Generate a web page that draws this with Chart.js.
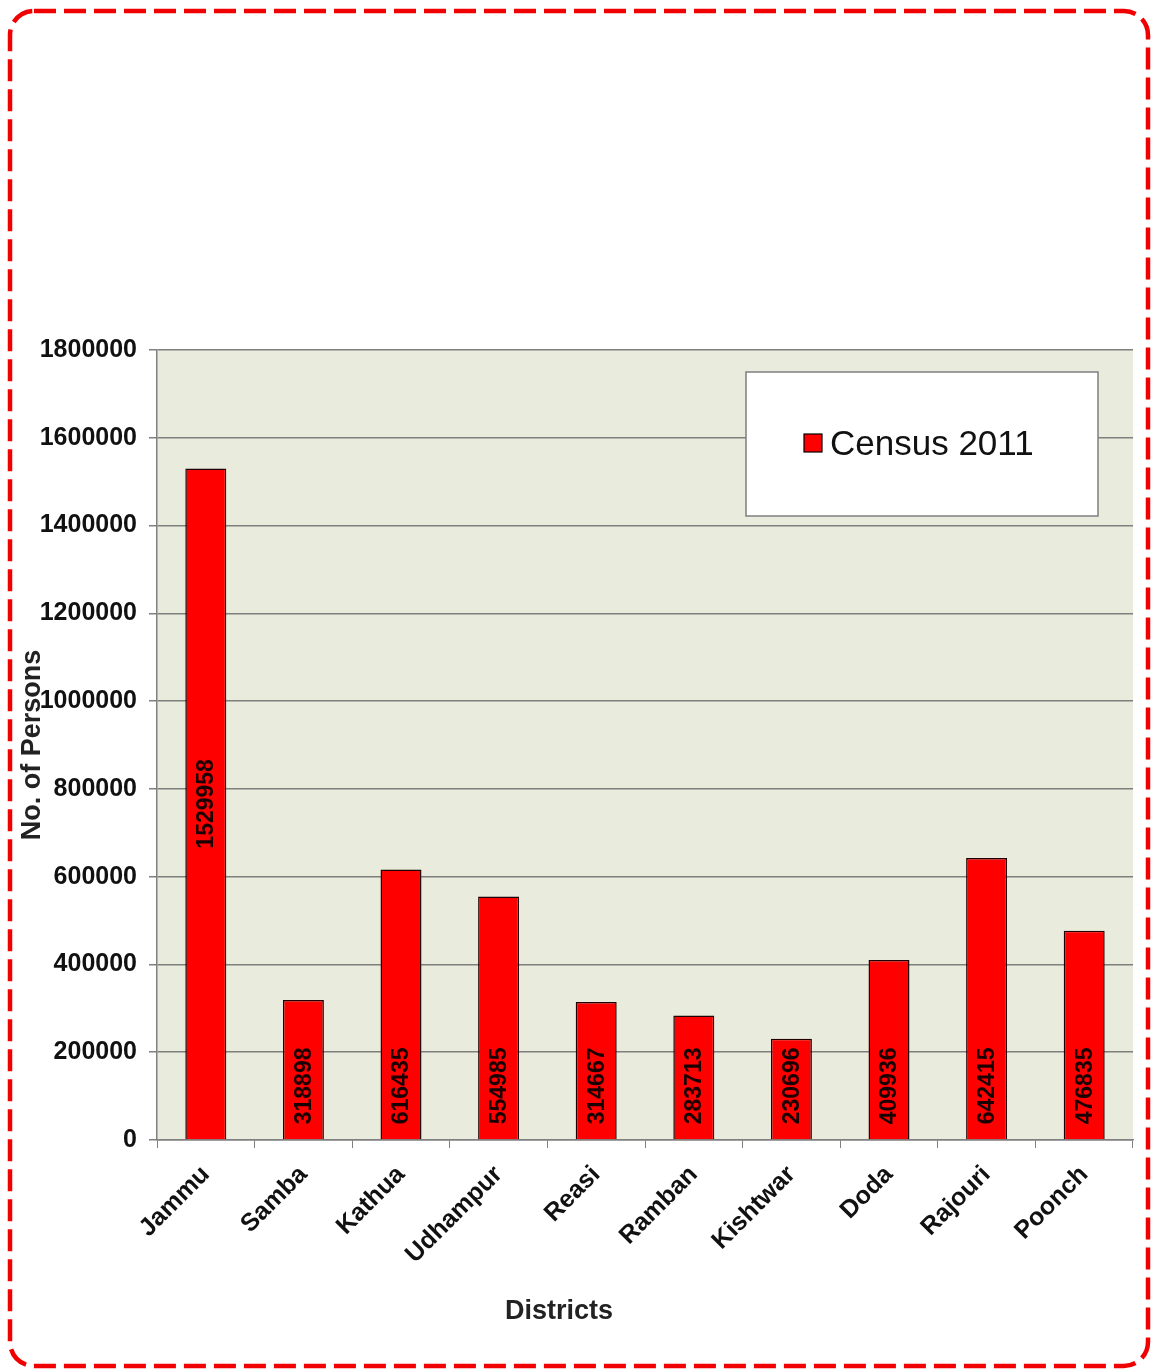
<!DOCTYPE html>
<html>
<head>
<meta charset="utf-8">
<script src="https://cdn.jsdelivr.net/npm/chart.js@4.4.1/dist/chart.umd.min.js"></script>
<style>
  html, body { margin: 0; padding: 0; background: #fff; }
  #wrap { width: 1151px; height: 1370px; }
</style>
</head>
<body>
<div id="wrap"><canvas id="censusChart" width="1151" height="1370"></canvas></div>
<script>
// --- data ---
const districts = ['Jammu', 'Samba', 'Kathua', 'Udhampur', 'Reasi', 'Ramban', 'Kishtwar', 'Doda', 'Rajouri', 'Poonch'];
const persons2011 = [1529958, 318898, 616435, 554985, 314667, 283713, 230696, 409936, 642415, 476835];
const seriesName = 'Census 2011';
const yTicks = [0, 200000, 400000, 600000, 800000, 1000000, 1200000, 1400000, 1600000, 1800000];

const FONT = "'Liberation Sans', Arial, sans-serif";

// frame + plot background
const backgroundPlugin = {
    id: 'bgFrame',
    beforeDraw(chart) {
        const ctx = chart.ctx;
        const a = chart.chartArea;
        ctx.save();
        ctx.fillStyle = '#fff';
        ctx.fillRect(0, 0, chart.width, chart.height);
        ctx.fillStyle = '#E9ECDC';
        ctx.fillRect(a.left, a.top, a.right - a.left, a.bottom - a.top);
        ctx.restore();
    },
    afterDraw(chart) {
        const ctx = chart.ctx;
        ctx.save();
        ctx.strokeStyle = '#F00000';
        ctx.lineWidth = 4.5;
        ctx.setLineDash([22, 8]);
        ctx.beginPath();
        ctx.roundRect(10, 11, 1138, 1355, 24);
        ctx.stroke();
        ctx.restore();
    }
};

// value labels inside the bars, rotated
const barLabelPlugin = {
    id: 'barLabels',
    afterDatasetsDraw(chart) {
        const ctx = chart.ctx;
        const meta = chart.getDatasetMeta(0);
        ctx.save();
        ctx.font = 'bold 23px ' + FONT;
        ctx.fillStyle = '#1a0000';
        meta.data.forEach((bar, i) => {
            const txt = String(persons2011[i]);
            const w = ctx.measureText(txt).width;
            const h = bar.base - bar.y;
            ctx.save();
            if (h > w * 6) {
                ctx.translate(bar.x, (bar.y + bar.base) / 2);
                ctx.rotate(-Math.PI / 2);
                ctx.textAlign = 'center';
            } else {
                ctx.translate(bar.x, bar.base - 15);
                ctx.rotate(-Math.PI / 2);
                ctx.textAlign = 'left';
            }
            ctx.textBaseline = 'middle';
            ctx.fillText(txt, 0, 1);
            ctx.restore();
        });
        ctx.restore();
    }
};

// legend box + x axis title
const legendPlugin = {
    id: 'boxLegend',
    afterDraw(chart) {
        const ctx = chart.ctx;
        ctx.save();
        ctx.fillStyle = '#fff';
        ctx.strokeStyle = '#7f7f7f';
        ctx.lineWidth = 1.5;
        ctx.fillRect(746, 372, 352, 144);
        ctx.strokeRect(746, 372, 352, 144);
        ctx.fillStyle = '#FF0000';
        ctx.fillRect(804, 434, 18, 18);
        ctx.strokeStyle = '#000';
        ctx.lineWidth = 1.2;
        ctx.strokeRect(804, 434, 18, 18);
        ctx.fillStyle = '#111';
        ctx.font = '35px ' + FONT;
        ctx.textBaseline = 'middle';
        ctx.textAlign = 'left';
        ctx.fillText(seriesName, 830, 445);

        ctx.font = 'bold 27px ' + FONT;
        ctx.textAlign = 'center';
        ctx.fillStyle = '#222';
        ctx.fillText('Districts', 559, 1312);
        ctx.restore();
    }
};

const ctx = document.getElementById('censusChart').getContext('2d');
new Chart(ctx, {
    type: 'bar',
    data: {
        labels: districts,
        datasets: [{
            label: seriesName,
            data: persons2011,
            backgroundColor: '#FF0000',
            borderColor: '#200000',
            borderWidth: 1.5,
            categoryPercentage: 1,
            barPercentage: 0.42
        }]
    },
    options: {
        responsive: false,
        animation: false,
        layout: { padding: { left: 0, top: 350, right: 18, bottom: 0 } },
        plugins: { legend: { display: false }, tooltip: { enabled: false } },
        scales: {
            x: {
                grid: { display: true, offset: true, drawOnChartArea: false, drawTicks: true, tickLength: 8, color: '#808080' },
                border: { display: true, color: '#808080', width: 1.5 },
                ticks: {
                    minRotation: 45, maxRotation: 45, padding: 12,
                    color: '#111',
                    font: { family: FONT, size: 25, weight: 'bold' }
                },
                afterFit(scale) { scale.height = 230; }
            },
            y: {
                min: 0,
                max: 1800000,
                afterBuildTicks(scale) { scale.ticks = yTicks.map(v => ({ value: v })); },
                grid: { color: '#7f7f7f', lineWidth: 1.5, tickLength: 8 },
                border: { display: true, color: '#808080', width: 1.5 },
                ticks: {
                    padding: 12,
                    color: '#111',
                    font: { family: FONT, size: 25, weight: 'bold' },
                    callback: v => String(v)
                },
                title: {
                    display: true,
                    text: 'No. of Persons',
                    color: '#222',
                    padding: { top: 16, bottom: 0 },
                    font: { family: FONT, size: 27, weight: 'bold' }
                },
                afterFit(scale) { scale.width = 157; }
            }
        }
    },
    plugins: [backgroundPlugin, barLabelPlugin, legendPlugin]
});
</script>
</body>
</html>
